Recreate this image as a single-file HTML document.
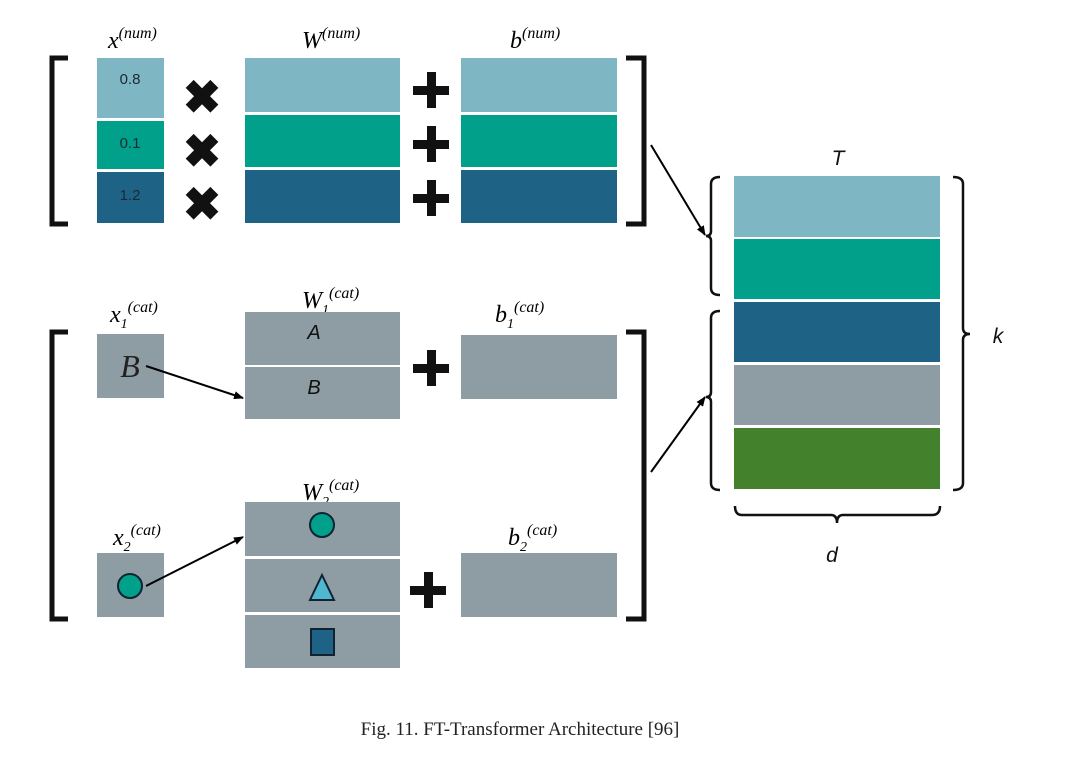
<!DOCTYPE html>
<html><head><style>body{margin:0;background:#fff}svg{display:block}</style></head><body>
<svg width="1077" height="762" viewBox="0 0 1077 762" xmlns="http://www.w3.org/2000/svg">
<defs><marker id="ar" markerWidth="10" markerHeight="8" refX="9" refY="4" orient="auto" markerUnits="userSpaceOnUse"><path d="M0,0 L10,4 L0,8 z" fill="#000"/></marker></defs>
<g font-family="Liberation Serif, serif" font-style="italic" fill="#000">
<text x="108" y="48" font-size="24">x<tspan font-size="16" dy="-10">(num)</tspan></text>
<text x="302" y="48" font-size="24">W<tspan font-size="16" dy="-10">(num)</tspan></text>
<text x="510" y="48" font-size="24">b<tspan font-size="16" dy="-10">(num)</tspan></text>
<text x="110" y="322" font-size="24">x<tspan font-size="14" dy="6">1</tspan><tspan font-size="16" dy="-16">(cat)</tspan></text>
<text x="302" y="308" font-size="24">W<tspan font-size="14" dy="6">1</tspan><tspan font-size="16" dy="-16">(cat)</tspan></text>
<text x="495" y="322" font-size="24">b<tspan font-size="14" dy="6">1</tspan><tspan font-size="16" dy="-16">(cat)</tspan></text>
<text x="113" y="545" font-size="24">x<tspan font-size="14" dy="6">2</tspan><tspan font-size="16" dy="-16">(cat)</tspan></text>
<text x="302" y="500" font-size="24">W<tspan font-size="14" dy="6">2</tspan><tspan font-size="16" dy="-16">(cat)</tspan></text>
<text x="508" y="545" font-size="24">b<tspan font-size="14" dy="6">2</tspan><tspan font-size="16" dy="-16">(cat)</tspan></text>
</g>
<!-- top brackets -->
<path d="M68,58 H52 V224 H68" fill="none" stroke="#111" stroke-width="5"/>
<path d="M626,58 H644 V224 H626" fill="none" stroke="#111" stroke-width="5"/>
<path d="M68,332 H52 V619 H68" fill="none" stroke="#111" stroke-width="5"/>
<path d="M626,332 H644 V619 H626" fill="none" stroke="#111" stroke-width="5"/>
<!-- num boxes -->
<rect x="97" y="58" width="67" height="60" fill="#7fb6c4"/>
<rect x="97" y="121" width="67" height="48" fill="#00a08a"/>
<rect x="97" y="172" width="67" height="51" fill="#1e6286"/>
<g font-family="Liberation Sans, sans-serif" font-size="15" fill="#1a2a33" text-anchor="middle">
<text x="130" y="84">0.8</text><text x="130" y="148">0.1</text><text x="130" y="200">1.2</text></g>
<g font-family="Liberation Sans, sans-serif" font-size="46" font-weight="bold" fill="#111" text-anchor="middle">
<text x="202" y="113">✖</text><text x="202" y="167">✖</text><text x="202" y="220">✖</text></g>
<rect x="245" y="58" width="155" height="54" fill="#7fb6c4"/>
<rect x="245" y="115" width="155" height="52" fill="#00a08a"/>
<rect x="245" y="170" width="155" height="53" fill="#1e6286"/>
<rect x="461" y="58" width="156" height="54" fill="#7fb6c4"/>
<rect x="461" y="115" width="156" height="52" fill="#00a08a"/>
<rect x="461" y="170" width="156" height="53" fill="#1e6286"/>
<g fill="#111">
<rect x="413" y="86" width="36" height="9"/><rect x="427" y="72" width="9" height="36"/>
<rect x="413" y="140" width="36" height="9"/><rect x="427" y="126" width="9" height="36"/>
<rect x="413" y="194" width="36" height="9"/><rect x="427" y="180" width="9" height="36"/>
<rect x="413" y="364" width="36" height="9"/><rect x="427" y="350" width="9" height="36"/>
<rect x="410" y="586" width="36" height="9"/><rect x="424" y="572" width="9" height="36"/>
</g>
<!-- cat -->
<rect x="97" y="334" width="67" height="64" fill="#8e9ca3"/>
<text x="130" y="377" font-family="Liberation Serif, serif" font-style="italic" font-size="32" text-anchor="middle" fill="#222">B</text>
<rect x="245" y="312" width="155" height="53" fill="#8e9ca3"/>
<rect x="245" y="367" width="155" height="52" fill="#8e9ca3"/>
<g font-family="Liberation Sans, sans-serif" font-style="italic" font-size="20" text-anchor="middle" fill="#111">
<text x="314" y="339">A</text><text x="314" y="394">B</text></g>
<rect x="461" y="335" width="156" height="64" fill="#8e9ca3"/>
<rect x="97" y="553" width="67" height="64" fill="#8e9ca3"/>
<circle cx="130" cy="586" r="12" fill="#00a08a" stroke="#123" stroke-width="2"/>
<rect x="245" y="502" width="155" height="54" fill="#8e9ca3"/>
<rect x="245" y="559" width="155" height="53" fill="#8e9ca3"/>
<rect x="245" y="615" width="155" height="53" fill="#8e9ca3"/>
<circle cx="322" cy="525" r="12" fill="#00a08a" stroke="#123" stroke-width="2"/>
<path d="M322,575 L334,600 L310,600 Z" fill="#4fb8cf" stroke="#123" stroke-width="2"/>
<rect x="311" y="629" width="23" height="26" fill="#1e6286" stroke="#123" stroke-width="2"/>
<rect x="461" y="553" width="156" height="64" fill="#8e9ca3"/>
<line x1="146" y1="366" x2="243" y2="398" stroke="#000" stroke-width="2" marker-end="url(#ar)"/>
<line x1="146" y1="586" x2="243" y2="537" stroke="#000" stroke-width="2" marker-end="url(#ar)"/>
<line x1="651" y1="145" x2="705" y2="235" stroke="#000" stroke-width="2" marker-end="url(#ar)"/>
<line x1="651" y1="472" x2="705" y2="397" stroke="#000" stroke-width="2" marker-end="url(#ar)"/>
<!-- T -->
<rect x="734" y="176" width="206" height="61" fill="#7fb6c4"/>
<rect x="734" y="239" width="206" height="60" fill="#00a08a"/>
<rect x="734" y="302" width="206" height="60" fill="#1e6286"/>
<rect x="734" y="365" width="206" height="60" fill="#8e9ca3"/>
<rect x="734" y="428" width="206" height="61" fill="#44812c"/>
<g fill="none" stroke="#111" stroke-width="2.5">
<path d="M720,177 Q711,177 711,184 V231 Q711,236 706,236 Q711,236 711,241 V288 Q711,295 720,295"/>
<path d="M720,311 Q711,311 711,318 V392 Q711,397 706,397 Q711,397 711,402 V483 Q711,490 720,490"/>
<path d="M953,177 Q963,177 963,184 V328 Q963,334 970,334 Q963,334 963,340 V483 Q963,490 953,490"/>
<path d="M735,506 Q735,515 742,515 H831 Q837,515 837,523 Q837,515 843,515 H932 Q940,515 940,506"/>
</g>
<g font-family="Liberation Sans, sans-serif" font-style="italic" font-size="21" fill="#111" text-anchor="middle">
<text x="838" y="165">T</text><text x="998" y="343">k</text><text x="832" y="562">d</text></g>
<text x="520" y="735" font-family="Liberation Serif, serif" font-size="19" text-anchor="middle" fill="#222">Fig. 11.  FT-Transformer Architecture [96]</text>
</svg>
</body></html>
